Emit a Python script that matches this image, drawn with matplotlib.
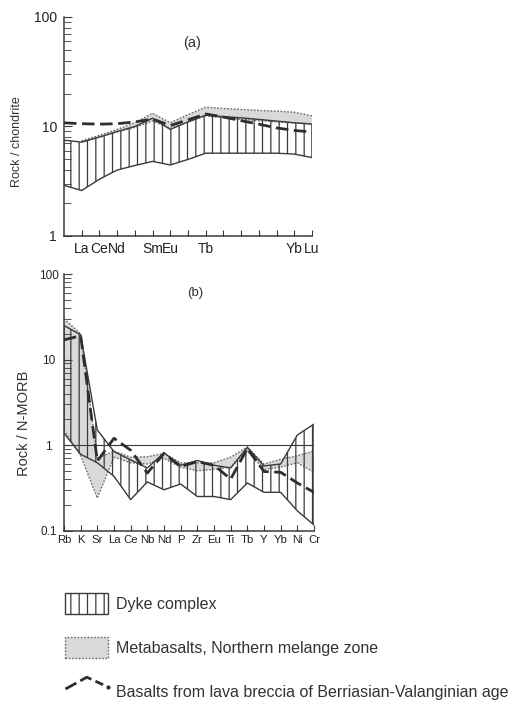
#!/usr/bin/env python3
"""Spider diagrams: (a) REE / chondrite, (b) trace elements / N-MORB."""
import numpy as np
import matplotlib
matplotlib.use("Agg")
import matplotlib.pyplot as plt
from matplotlib.patches import Patch
from matplotlib.lines import Line2D

plt.rcParams["font.family"] = ["Liberation Sans", "DejaVu Sans"]
plt.rcParams["hatch.linewidth"] = 0.9

# ---- panel (a): REE normalised to chondrite (La..Lu, no Pm gap) ----
ree = ["La", "Ce", "Pr", "Nd", "Pm", "Sm", "Eu", "Gd", "Tb", "Dy", "Ho", "Er", "Tm", "Yb", "Lu"]
ree_tick_labels = ["La", "Ce", "Nd", "", "Sm", "Eu", "", "Tb", "", "", "", "", "Yb", "Lu"]
dyke_a_hi = [7.5, 7.2, 8.0, 9.0, 10.0, 11.9, 9.4, 11.0, 12.7, 12.3, 12.0, 11.6, 11.2, 10.8, 10.5]
dyke_a_lo = [2.9, 2.6, 3.3, 4.0, 4.4, 4.8, 4.45, 5.0, 5.7, 5.7, 5.7, 5.7, 5.7, 5.6, 5.2]
meta_a_hi = [np.nan, 7.4, 8.3, 9.4, 10.8, 13.2, 10.8, 12.8, 15.0, 14.6, 14.3, 14.0, 13.8, 13.5, 12.5]
meta_a_lo = [np.nan, 7.2, 8.0, 8.9, 9.8, 11.2, 9.6, 11.0, 12.5, 12.0, 11.6, 11.3, 11.0, 10.8, 10.6]
basalt_a = [10.8, 10.6, 10.5, 10.6, 11.0, 11.7, 10.2, 11.5, 13.0, 12.2, 11.3, 10.5, 9.7, 9.2, 8.9]

# ---- panel (b): trace elements normalised to N-MORB ----
trace = ["Rb", "K", "Sr", "La", "Ce", "Nb", "Nd", "P", "Zr", "Eu", "Ti", "Tb", "Y", "Yb", "Ni", "Cr"]
dyke_b_hi = [25.0, 19.5, 1.5, 0.84, 0.67, 0.54, 0.81, 0.58, 0.66, 0.58, 0.54, 0.94, 0.57, 0.60, 1.31, 1.76]
dyke_b_lo = [1.38, 0.78, 0.62, 0.43, 0.23, 0.37, 0.30, 0.35, 0.25, 0.25, 0.23, 0.36, 0.28, 0.28, 0.17, 0.116]
meta_b_hi = [30.0, 20.0, 0.70, 0.85, 0.72, 0.73, 0.80, 0.62, 0.62, 0.62, 0.72, 0.95, 0.60, 0.68, 0.75, 0.85]
meta_b_lo = [1.5, 0.75, 0.24, 0.72, 0.62, 0.60, 0.70, 0.55, 0.50, 0.52, 0.55, 0.85, 0.52, 0.55, 0.62, 0.48]
basalt_b = [17.0, 19.0, 0.65, 1.20, 0.87, 0.47, 0.80, 0.56, 0.64, 0.58, 0.40, 0.91, 0.49, 0.48, 0.36, 0.28]

DARK = "#3a3a3a"
GREY = "#d9d9d9"
DOT = "#6a6a6a"
DASH = "#2e2e2e"


class ZigzagHandler:
    """Legend key for the basalt line: a small peak plus a dot, as in the original."""
    def legend_artist(self, legend, orig_handle, fontsize, handlebox):
        x0, y0 = handlebox.xdescent, handlebox.ydescent
        w, h = handlebox.width, handlebox.height
        ln = Line2D([x0, x0 + 0.5 * w, x0 + 0.88 * w], [y0 + 0.1 * h, y0 + 0.65 * h, y0 + 0.3 * h],
                    color=DASH, lw=2.0, dashes=(4.5, 1.6), transform=handlebox.get_transform())
        dot = Line2D([x0 + w], [y0 + 0.2 * h], marker="o", ms=2, color=DASH, ls="none",
                     transform=handlebox.get_transform())
        handlebox.add_artist(ln)
        handlebox.add_artist(dot)
        return ln


def draw_panel(ax, hi, lo, mhi, mlo, bas):
    x = np.arange(len(hi))
    ax.fill_between(x, mlo, mhi, facecolor=GREY, edgecolor="none", zorder=1)
    ax.plot(x, mhi, ls=(0, (1.2, 1.2)), color=DOT, lw=1.0, zorder=2)
    ax.plot(x, mlo, ls=(0, (1.2, 1.2)), color=DOT, lw=1.0, zorder=2)
    ax.fill_between(x, lo, hi, facecolor="none", edgecolor=DARK, hatch="||",
                    lw=1.0, zorder=3)
    ax.plot(x, bas, color=DASH, lw=2.0, dashes=(4.5, 2.0), zorder=4)
    ax.set_yscale("log")
    ax.spines[["top", "right"]].set_visible(False)
    for s in ("left", "bottom"):
        ax.spines[s].set_color(DARK)
        ax.spines[s].set_linewidth(1.1)
    ax.tick_params(axis="both", which="both", direction="in", color=DARK,
                   labelcolor="#222222")
    ax.tick_params(axis="y", which="major", length=6)
    ax.tick_params(axis="y", which="minor", length=5)
    ax.tick_params(axis="x", length=4)


fig = plt.figure(figsize=(5.09, 7.04), dpi=100)

# (a)
ax_a = fig.add_axes([0.1257, 0.6648, 0.4872, 0.3111])
draw_panel(ax_a, dyke_a_hi, dyke_a_lo, meta_a_hi, meta_a_lo, basalt_a)
ax_a.set_xlim(0, len(ree) - 1)
ax_a.set_ylim(1, 100)
ax_a.set_xticks(np.arange(1, len(ree)))
ax_a.set_xticklabels(ree_tick_labels, fontsize=10)
ax_a.tick_params(axis="x", pad=4)
ax_a.set_yticks([1, 10, 100])
ax_a.set_yticklabels(["1", "10", "100"], fontsize=10)
ax_a.tick_params(axis="y", pad=5)
ax_a.set_ylabel("Rock / chondrite", fontsize=9, color="#333333")
ax_a.yaxis.set_label_coords(-0.165, 0.43)
ax_a.text(0.516, 0.88, "(a)", transform=ax_a.transAxes, ha="center",
          va="center", fontsize=10.5, color="#333333")

# (b)
ax_b = fig.add_axes([0.1257, 0.2464, 0.4912, 0.3643])
ax_b.axhline(1, color=DARK, lw=0.8, zorder=2)
draw_panel(ax_b, dyke_b_hi, dyke_b_lo, meta_b_hi, meta_b_lo, basalt_b)
ax_b.set_xlim(0, len(trace) - 1)
ax_b.set_ylim(0.1, 100)
ax_b.set_xticks(np.arange(len(trace)))
ax_b.set_xticklabels(trace, fontsize=8.2)
ax_b.tick_params(axis="x", pad=3)
ax_b.set_yticks([0.1, 1, 10, 100])
ax_b.set_yticklabels(["0.1", "1", "10", "100"], fontsize=8.5)
ax_b.tick_params(axis="y", pad=11)
for t in ax_b.get_yticklabels():
    t.set_horizontalalignment("center")
ax_b.set_ylabel("Rock / N-MORB", fontsize=10.5, color="#333333")
ax_b.yaxis.set_label_coords(-0.13, 0.42)
ax_b.text(0.524, 0.926, "(b)", transform=ax_b.transAxes, ha="center",
          va="center", fontsize=9.5, color="#333333")

# legend
basalt_key = Line2D([0], [0], color=DASH, lw=2.0, dashes=(4.5, 2.0))
handles = [
    Patch(facecolor="white", edgecolor=DARK, hatch="||", lw=1.0),
    Patch(facecolor=GREY, edgecolor=DOT, ls=(0, (1.2, 1.2)), lw=1.0),
    basalt_key,
]
labels = ["Dyke complex", "Metabasalts, Northern melange zone",
          "Basalts from lava breccia of Berriasian-Valanginian age"]
fig.legend(handles, labels, loc="upper left", bbox_to_anchor=(0.116, 0.167),
           frameon=False, fontsize=11.5, handlelength=2.68, handleheight=1.69,
           handletextpad=0.5, labelspacing=1.41, borderaxespad=0,
           labelcolor="#333333", handler_map={basalt_key: ZigzagHandler()})

fig.savefig("out.png", dpi=100)
